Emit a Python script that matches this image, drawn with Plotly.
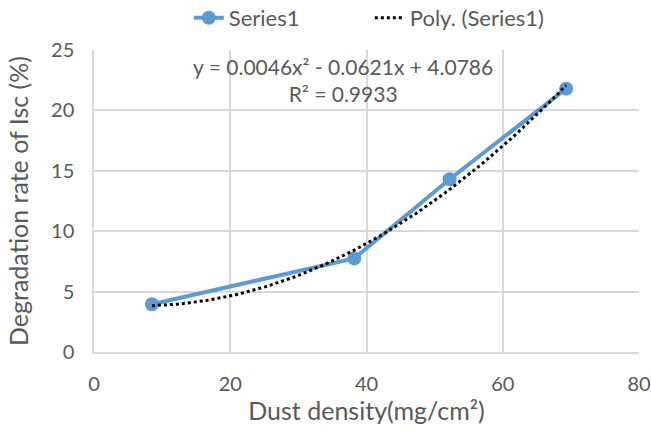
import numpy as np
import plotly.graph_objects as go

dust_density = [8.5, 38.2, 52.2, 69.3]
degradation = [3.95, 7.75, 14.3, 21.8]
x_ticks = [0, 20, 40, 60, 80]
y_ticks = [0, 5, 10, 15, 20, 25]

coef = np.polyfit(dust_density, degradation, 2)
xs = np.linspace(min(dust_density), max(dust_density), 100)
ys = np.polyval(coef, xs)

FONT = "Lato, Open Sans, sans-serif"
GREY = "#595959"

fig = go.Figure()
fig.add_trace(go.Scatter(x=dust_density, y=degradation, mode="lines+markers",
                         name="Series1",
                         line=dict(color="#5b9bd5", width=4),
                         marker=dict(size=14, color="#5b9bd5")))
fig.add_trace(go.Scatter(x=xs, y=ys, mode="lines", name="Poly. (Series1)",
                         line=dict(color="black", width=3, dash="dot")))

fig.add_annotation(x=0.457, y=1.0, xref="paper", yref="paper",
                   yanchor="top", xanchor="center", yshift=-2,
                   text="y = 0.0046x² - 0.0621x + 4.0786<br>R² = 0.9933",
                   showarrow=False, font=dict(family=FONT, size=21, color=GREY),
                   align="center")

fig.update_layout(
    width=651, height=436,
    margin=dict(l=94, r=12, t=50, b=84, autoexpand=False),
    paper_bgcolor="white", plot_bgcolor="white",
    font=dict(family=FONT, color=GREY, size=20),
    legend=dict(orientation="h", x=0.174, xanchor="left", y=1.106, yanchor="middle",
                font=dict(size=22, color=GREY), entrywidth=136, entrywidthmode="pixels"),
    xaxis=dict(range=[0, 80], tickvals=x_ticks, showgrid=True, gridcolor="#d9d9d9",
               gridwidth=1.5, zeroline=False, showline=True, linecolor="#d9d9d9",
               linewidth=1.5, ticks="", ticklabelstandoff=13,
               tickfont=dict(size=20, color=GREY),
               title=dict(text="Dust density(mg/cm²)", font=dict(size=25, color=GREY),
                          standoff=9)),
    yaxis=dict(range=[0, 25], tickvals=y_ticks, showgrid=True, gridcolor="#d9d9d9",
               gridwidth=1.5, zeroline=False, showline=True, linecolor="#d9d9d9",
               linewidth=1.5, ticks="", ticklabelstandoff=14,
               tickfont=dict(size=20, color=GREY),
               title=dict(text="Degradation rate of Isc (%)", font=dict(size=25, color=GREY),
                          standoff=15)),
)

fig.write_html("out.html", config={"displayModeBar": False},
               post_script="document.body.style.margin='0';")
